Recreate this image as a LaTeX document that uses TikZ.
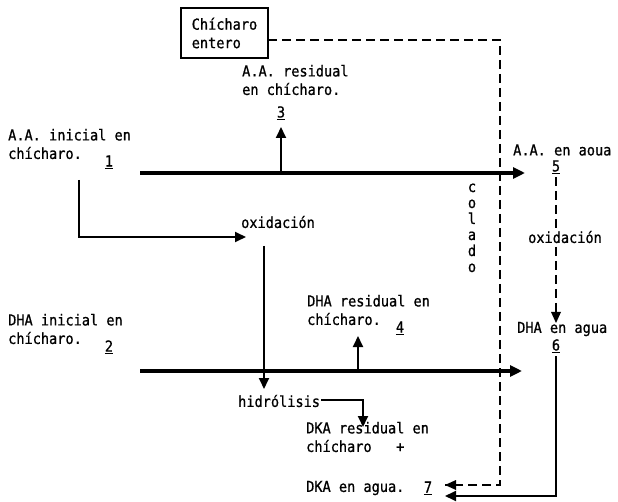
\documentclass[tikz,border=0pt]{standalone}
\usepackage{fontspec}
\newfontfamily\tw[FakeStretch=0.9,FakeBold=0.8]{DejaVu Sans Mono}
\usetikzlibrary{arrows.meta}
\tikzset{
  lbl/.style={anchor=west,inner sep=0pt,align=left,font=\tw\fontsize{15.1}{18.5}\selectfont},
  num/.style={inner sep=0pt,font=\tw\fontsize{15.1}{18.5}\selectfont},
  vlet/.style={num,text height=9pt,text depth=1pt},
  flow/.style={line width=4pt,-{Triangle[length=12pt,width=11pt]}},
  thin/.style={line width=1.8pt},
  tarr/.style={thin,-{Triangle[length=11pt,width=10pt]}},
  dash line/.style={line width=1.5pt,dash pattern=on 9pt off 5pt},
  boxst/.style={draw,line width=1.5pt,minimum width=87pt,minimum height=50pt,inner sep=0pt,align=left,font=\tw\fontsize{15.1}{18.5}\selectfont}
}
\begin{document}
\begin{tikzpicture}[x=1pt,y=-1pt]
\useasboundingbox (0,0) rectangle (618,502);
% box
\node[boxst] (box) at (224.5,33) {Chícharo\\entero};
% labels
\node[lbl] (aares) at (242,80) {A.A. residual\\en chícharo.};
\node[num] (n3) at (281,113) {\underline{3}};
\node[lbl] (aaini) at (8,144) {A.A. inicial en\\chícharo.};
\node[num] (n1) at (109,162) {\underline{1}};
\node[lbl] (aaagua) at (513,150) {A.A. en aoua};
\node[num] (n5) at (556,167) {\underline{5}};
\node[lbl] (oxl) at (241,222) {oxidación};
\foreach \l [count=\i from 0] in {c,o,l,a,d,o}
  \node[vlet] (col\i) at (472,188+16*\i) {\l};
\node[lbl] (oxr) at (528,237) {oxidación};
\node[lbl] (dhares) at (307,310) {DHA residual en\\chícharo.};
\node[num] (n4) at (400,328) {\underline{4}};
\node[lbl] (dhaini) at (8,329) {DHA inicial en\\chícharo.};
\node[num] (n2) at (109,347) {\underline{2}};
\node[lbl] (dhaagua) at (517,329) {DHA en agua};
\node[num] (n6) at (556,346) {\underline{6}};
\node[lbl] (hidro) at (238,401) {hidrólisis};
\node[lbl] (dkares) at (306,437) {DKA residual en\\chícharo~~~+};
\node[lbl] (dkaagua) at (306,488) {DKA en agua.};
\node[num] (n7) at (428,488) {\underline{7}};
% coordinates
\coordinate (t1s) at (140,173);
\coordinate (t1e) at (525,173);
\coordinate (t1b) at (281,173);
\coordinate (t1u) at (281,127);
\coordinate (lA) at (79,180);
\coordinate (lB) at (246,237);
\coordinate (vA) at (264,246);
\coordinate (vB) at (264,389);
\coordinate (t2s) at (140,371);
\coordinate (t2e) at (522,371);
\coordinate (t2b) at (358,371);
\coordinate (t2u) at (358,336);
\coordinate (hA) at (321,400);
\coordinate (hB) at (363,427);
\coordinate (dA) at (268,40);
\coordinate (dB) at (500,40);
\coordinate (dC) at (500,485);
\coordinate (dD) at (445,485);
\coordinate (r5a) at (556,177);
\coordinate (r5b) at (556,228);
\coordinate (r5c) at (556,247);
\coordinate (r5d) at (556,321);
\coordinate (r6a) at (556,356);
\coordinate (r6b) at (445,496);
% connectors
\draw[flow] (t1s) -- (t1e);
\draw[tarr] (t1b) -- (t1u);
\draw[tarr] (lA) |- (lB);
\draw[tarr] (vA) -- (vB);
\draw[flow] (t2s) -- (t2e);
\draw[tarr] (t2b) -- (t2u);
\draw[tarr] (hA) -| (hB);
\draw[dash line] (dA) -- (dB) -- (dC) -- (dD);
\fill (dD) -- ++(11,-5) -- ++(0,10) -- cycle;
\draw[dash line] (r5a) -- (r5b);
\draw[dash line] (r5c) -- (r5d);
\fill (r5d) ++(0,2) -- ++(-5,-11) -- ++(10,0) -- cycle;
\draw[tarr] (r6a) |- (r6b);
\end{tikzpicture}
\end{document}
